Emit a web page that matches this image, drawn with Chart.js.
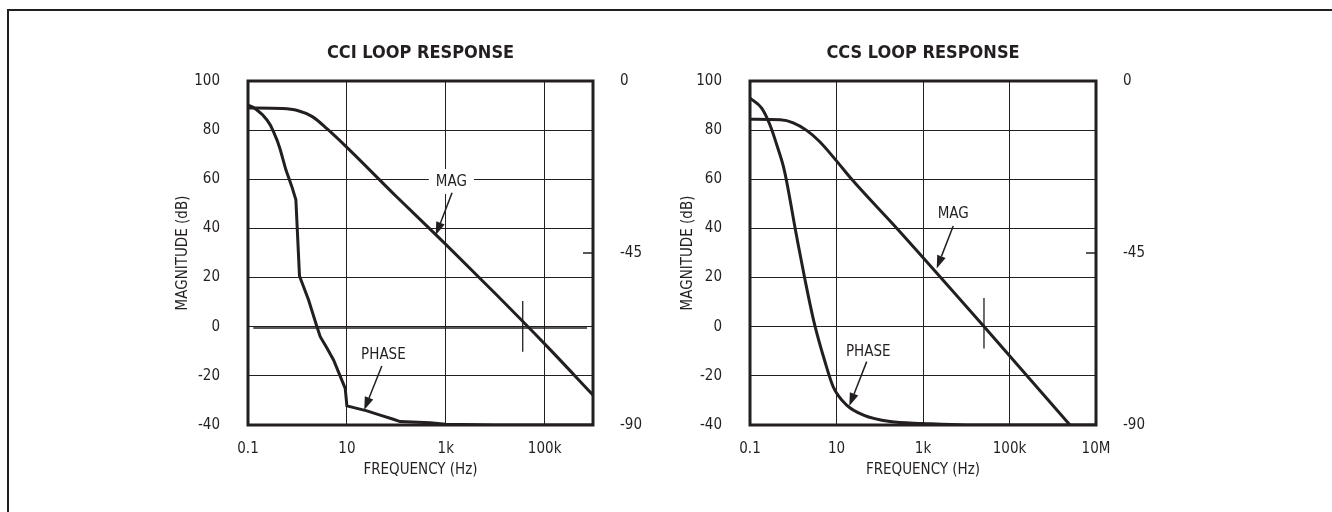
<!DOCTYPE html>
<html>
<head>
<meta charset="utf-8">
<script src="https://cdn.jsdelivr.net/npm/chart.js@4.4.0/dist/chart.umd.min.js"></script>
<style>
html, body { margin: 0; padding: 0; background: #fff; }
body { width: 1332px; height: 512px; position: relative; overflow: hidden; }
#frame { position: absolute; left: 7px; top: 9px; width: 1340px; height: 520px;
  border-top: 2px solid #231f20; border-left: 2px solid #231f20; }
canvas { position: absolute; top: 30px; }
</style>
</head>
<body>
<div id="frame"></div>
<canvas id="cci" width="540" height="460" style="left:140px"></canvas>
<canvas id="ccs" width="555" height="460" style="left:645px"></canvas>
<script>
'use strict'

// shared axes
const magTicks = [-40, -20, 0, 20, 40, 60, 80, 100];
const phaseTicks = [-90, -45, 0];

// CCI loop response
const cciFreqTicks = [0.1, 10, 1e3, 1e5];
const cciFreqLabels = ['0.1', '10', '1k', '100k'];
const cciMagFreq = [0.1, 0.5, 1, 2, 4, 10, 100, 1000, 1e4, 1e5, 9.5e5];
const cciMagDb = [89, 88.8, 88, 85.5, 80.5, 73, 53, 33.5, 13.5, -7, -27.8];
const cciPhaseFreq = [0.1, 0.125, 0.152, 0.195, 0.242, 0.285, 0.329, 0.39, 0.45, 0.586, 0.774, 0.93, 1.1, 1.68, 2.48, 2.89, 4, 5.37, 9.25, 10, 25.4, 47, 87, 119, 480, 1000, 1e4, 9.5e5];
const cciPhaseDeg = [-6.3, -6.8, -7.6, -8.8, -10.2, -11.6, -13.3, -15.6, -18, -23.3, -27.7, -31.1, -51, -57.3, -64.3, -66.9, -70, -73, -80.4, -85, -86.3, -87.4, -88.5, -89.1, -89.4, -89.8, -90, -90];
const cciCrossFreq = [36000, 36000];
const cciCrossDb = [10.5, -10.2];
const cciZeroFreq = [0.128, 7.2e5];
const cciZeroDb = [-0.5, -0.5];

// CCS loop response
const ccsFreqTicks = [0.1, 10, 1e3, 1e5, 1e7];
const ccsFreqLabels = ['0.1', '10', '1k', '100k', '10M'];
const ccsMagFreq = [0.1, 0.5, 1, 2, 4, 10, 22.5, 250, 26000, 2.5e6];
const ccsMagDb = [84.4, 84.2, 83, 80, 75.5, 67.5, 60, 40, 0, -40];
const ccsPhaseFreq = [0.1, 0.186, 0.29, 0.43, 0.62, 1.2, 1.87, 3.07, 5.4, 8.4, 17.2, 42, 173, 1000, 1e4, 1e7];
const ccsPhaseDeg = [-4.5, -7.1, -11.5, -17.2, -23.3, -40.7, -52, -63.4, -73.4, -80, -84.8, -87.4, -89.1, -89.6, -90, -90];
const ccsCrossFreq = [25700, 25700];
const ccsCrossDb = [11.7, -8.9];

const ink = '#231f20';
const fam = "'DejaVu Sans Condensed', 'Liberation Sans Narrow', sans-serif";
Chart.defaults.font.family = fam;
Chart.defaults.font.size = 15;
Chart.defaults.color = ink;

function pts(xs, ys) {
  return xs.map((x, i) => ({x: x, y: ys[i]}));
}

function arrow(ctx, x0, y0, x1, y1) {
  const ang = Math.atan2(y1 - y0, x1 - x0);
  const len = 13, half = 4.5;
  const bx = x1 - len * Math.cos(ang), by = y1 - len * Math.sin(ang);
  ctx.lineWidth = 1.5;
  ctx.beginPath(); ctx.moveTo(x0, y0); ctx.lineTo(bx, by); ctx.stroke();
  ctx.beginPath();
  ctx.moveTo(x1, y1);
  ctx.lineTo(bx + half * Math.sin(ang), by - half * Math.cos(ang));
  ctx.lineTo(bx - half * Math.sin(ang), by + half * Math.cos(ang));
  ctx.closePath(); ctx.fill();
}

// frame, inner phase tick, labels with arrows, title
const extras = {
  id: 'extras',
  afterDatasetsDraw(chart, args, opts) {
    const {ctx, chartArea: a, scales} = chart;
    const sx = scales.x, sy = scales.y, sy1 = scales.y1;
    ctx.save();
    ctx.strokeStyle = ink;
    ctx.fillStyle = ink;
    ctx.lineWidth = 1.5;
    phaseTicks.slice(1, -1).forEach(v => {
      const py = sy1.getPixelForValue(v);
      ctx.beginPath(); ctx.moveTo(a.right - 10, py); ctx.lineTo(a.right, py); ctx.stroke();
    });
    ctx.lineWidth = 3;
    ctx.strokeRect(a.left, a.top, a.right - a.left, a.bottom - a.top);

    ctx.font = '15px ' + fam;
    ctx.textAlign = 'center';
    ctx.textBaseline = 'middle';
    opts.notes.forEach(n => {
      const tx = sx.getPixelForValue(n.at[0]), ty = sy.getPixelForValue(n.at[1]);
      const w = ctx.measureText(n.label).width;
      ctx.fillStyle = '#fff';
      ctx.fillRect(tx - w / 2 - 7, ty - 13, w + 14, 25);
      ctx.fillStyle = ink;
      ctx.fillText(n.label, tx, ty);
      arrow(ctx, sx.getPixelForValue(n.from[0]), sy.getPixelForValue(n.from[1]),
        sx.getPixelForValue(n.to[0]), sy.getPixelForValue(n.to[1]));
    });

    ctx.font = 'bold 18px ' + fam;
    ctx.fillText(opts.title, (a.left + a.right) / 2, a.top - 28);
    ctx.restore();
  }
};

function makeChart(id, cfg) {
  const line = (data, axis, width, smooth) => ({
    data: data, yAxisID: axis, borderColor: ink, borderWidth: width,
    pointRadius: 0, fill: false,
    cubicInterpolationMode: smooth ? 'monotone' : 'default', tension: 0
  });
  const datasets = [
    line(pts(cfg.magFreq, cfg.magDb), 'y', 3, true),
    line(pts(cfg.phaseFreq, cfg.phaseDeg), 'y1', 3, cfg.smoothPhase),
    line(pts(cfg.crossFreq, cfg.crossDb), 'y', 1.3, false)
  ];
  if (cfg.zeroFreq) {
    datasets.push(line(pts(cfg.zeroFreq, cfg.zeroDb), 'y', 1.5, false));
  }

  return new Chart(document.getElementById(id), {
    type: 'line',
    data: {datasets: datasets},
    plugins: [extras],
    options: {
      responsive: false,
      animation: false,
      layout: {padding: {top: 51, left: 0, right: 0, bottom: 0}},
      plugins: {
        legend: {display: false},
        tooltip: {enabled: false},
        extras: {title: cfg.title, notes: cfg.notes}
      },
      scales: {
        x: {
          type: 'logarithmic', min: 0.1, max: cfg.freqMax,
          afterBuildTicks: s => { s.ticks = cfg.freqTicks.map(v => ({value: v})); },
          afterFit: s => { s.height = 65; },
          ticks: {callback: (v, i) => cfg.freqLabels[i], padding: 15, autoSkip: false, maxRotation: 0},
          grid: {color: ink, lineWidth: 1, drawTicks: false},
          border: {display: false},
          title: {display: true, text: 'FREQUENCY (Hz)', padding: {top: 0, bottom: 11}}
        },
        y: {
          type: 'linear', position: 'left', min: -40, max: 100,
          afterBuildTicks: s => { s.ticks = magTicks.map(v => ({value: v})); },
          afterFit: s => { s.width = cfg.leftW; },
          ticks: {padding: 28},
          grid: {color: ink, lineWidth: 1, drawTicks: false},
          border: {display: false},
          title: {display: true, text: 'MAGNITUDE (dB)', padding: {top: 34, bottom: 0}}
        },
        y1: {
          type: 'linear', position: 'right', min: -90, max: 0,
          afterBuildTicks: s => { s.ticks = phaseTicks.map(v => ({value: v})); },
          afterFit: s => { s.width = cfg.rightW; },
          ticks: {padding: 27},
          grid: {display: false, drawTicks: false},
          border: {display: false}
        }
      }
    }
  });
}

makeChart('cci', {
  title: 'CCI LOOP RESPONSE',
  freqMax: 9.5e5, freqTicks: cciFreqTicks, freqLabels: cciFreqLabels,
  magFreq: cciMagFreq, magDb: cciMagDb,
  phaseFreq: cciPhaseFreq, phaseDeg: cciPhaseDeg, smoothPhase: false,
  crossFreq: cciCrossFreq, crossDb: cciCrossDb,
  zeroFreq: cciZeroFreq, zeroDb: cciZeroDb,
  leftW: 108, rightW: 87,
  notes: [
    {label: 'MAG', at: [1300, 58.9], from: [1340, 54.5], to: [628, 37.3]},
    {label: 'PHASE', at: [54.8, -11.5], from: [50.9, -16], to: [22.4, -33.9]}
  ]
});

makeChart('ccs', {
  title: 'CCS LOOP RESPONSE',
  freqMax: 1e7, freqTicks: ccsFreqTicks, freqLabels: ccsFreqLabels,
  magFreq: ccsMagFreq, magDb: ccsMagDb,
  phaseFreq: ccsPhaseFreq, phaseDeg: ccsPhaseDeg, smoothPhase: true,
  crossFreq: ccsCrossFreq, crossDb: ccsCrossDb,
  leftW: 105, rightW: 104,
  notes: [
    {label: 'MAG', at: [5000, 46], from: [5000, 41], to: [2075, 23.7]},
    {label: 'PHASE', at: [54.3, -10.3], from: [49.9, -14.2], to: [19.8, -32.3]}
  ]
});
</script>
</body>
</html>
